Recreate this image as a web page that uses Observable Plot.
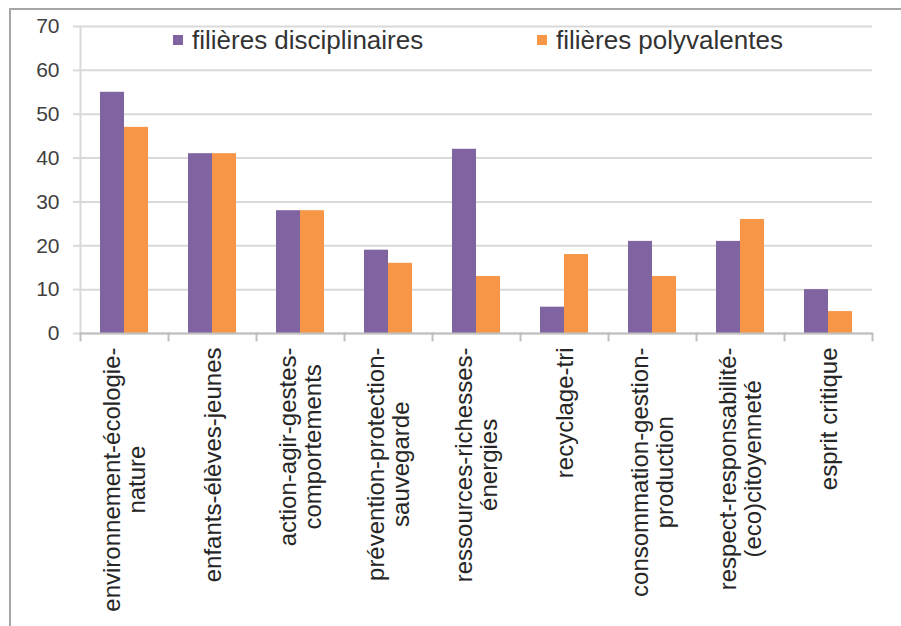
<!DOCTYPE html>
<html>
<head>
<meta charset="utf-8">
<script src="https://cdn.jsdelivr.net/npm/d3@7"></script>
<script src="https://cdn.jsdelivr.net/npm/@observablehq/plot@0.6"></script>
<style>
  html, body { margin: 0; padding: 0; background: #fff; }
  #wrap { position: relative; width: 901px; height: 626px; overflow: hidden; background: #fff; font-family: "Liberation Sans", Arial, sans-serif; }
  #border { position: absolute; left: 9px; top: 8px; width: 1000px; height: 1000px; border-left: 2px solid #a6a6a6; border-top: 2px solid #a6a6a6; }
  #chart { position: absolute; left: 0; top: 0; }
  #legend { position: absolute; top: 25px; left: 0; width: 901px; height: 30px; }
  .item { position: absolute; top: 0; height: 30px; display: flex; align-items: center; font-size: 26px; color: #333; white-space: nowrap; }
  .sw { width: 10px; height: 10px; margin-right: 9px; }
</style>
</head>
<body>
<div id="wrap">
  <div id="border"></div>
  <div id="chart"></div>
  <div id="legend"></div>
</div>
<script>
const categories = [
  "environnement-écologie-\nnature",
  "enfants-élèves-jeunes",
  "action-agir-gestes-\ncomportements",
  "prévention-protection-\nsauvegarde",
  "ressources-richesses-\nénergies",
  "recyclage-tri",
  "consommation-gestion-\nproduction",
  "respect-responsabilité-\n(eco)citoyenneté",
  "esprit critique"
];
const series = ["filières disciplinaires", "filières polyvalentes"];
const disciplinaires = [55, 41, 28, 19, 42, 6, 21, 21, 10];
const polyvalentes = [47, 41, 28, 16, 13, 18, 13, 26, 5];
const yTicks = [0, 10, 20, 30, 40, 50, 60, 70];
const colors = ["#8064A2", "#F79646"];

const data = categories.flatMap((c, i) => [
  {cat: c, series: series[0], value: disciplinaires[i]},
  {cat: c, series: series[1], value: polyvalentes[i]}
]);

const W = 901, H = 626;
const mL = 77, mR = 27, mT = 26, mB = 293;
const plotH = H - mT - mB;
const tickLen = 7;
const labelSize = 24;
const labelFont = `${labelSize}px "Liberation Sans", Arial, sans-serif`;

const ctx = document.createElement("canvas").getContext("2d");
ctx.font = labelFont;

const labelMarks = categories.map(c => {
  const lines = c.split("\n");
  const w = Math.max(...lines.map(l => ctx.measureText(l).width));
  return Plot.text([c], {
    fx: d => d,
    text: d => d,
    frameAnchor: "bottom",
    rotate: -90,
    textAnchor: "middle",
    lineAnchor: "middle",
    lineHeight: 1.05,
    dy: 14 + w / 2,
    fontSize: labelSize,
    fill: "#262626"
  });
});

const chart = Plot.plot({
  width: W,
  height: H,
  marginLeft: mL,
  marginRight: mR,
  marginTop: mT,
  marginBottom: mB,
  style: {fontFamily: '"Liberation Sans", Arial, sans-serif', background: "transparent", overflow: "visible"},
  fx: {domain: categories, padding: 0, label: null, axis: null},
  x: {domain: series, paddingInner: 0, paddingOuter: 0.77, axis: null},
  y: {domain: [0, 70], ticks: yTicks, label: null},
  color: {domain: series, range: colors},
  marks: [
    Plot.gridY(yTicks, {stroke: "#d9d9d9", strokeOpacity: 1, strokeWidth: 2}),
    Plot.axisY(yTicks, {tickSize: tickLen, tickPadding: 14, stroke: "#d9d9d9", strokeWidth: 2, fill: "#404040", fontSize: 21, label: null}),
    Plot.frame({anchor: "left", facetAnchor: "left", stroke: "#d9d9d9", strokeWidth: 2}),
    Plot.barY(data, {fx: "cat", x: "series", y: "value", fill: "series"}),
    Plot.ruleY([0], {stroke: "#bfbfbf", strokeWidth: 2}),
    Plot.frame({anchor: "left", insetTop: plotH, insetBottom: -tickLen, stroke: "#bfbfbf", strokeWidth: 2}),
    Plot.frame({anchor: "right", facetAnchor: "right", insetTop: plotH, insetBottom: -tickLen, stroke: "#bfbfbf", strokeWidth: 2}),
    ...labelMarks
  ]
});
document.getElementById("chart").appendChild(chart);

const legendPos = [173, 537];
const legend = document.getElementById("legend");
series.forEach((s, i) => {
  const item = document.createElement("div");
  item.className = "item";
  item.style.left = legendPos[i] + "px";
  const sw = document.createElement("span");
  sw.className = "sw";
  sw.style.background = colors[i];
  const t = document.createElement("span");
  t.textContent = s;
  item.appendChild(sw);
  item.appendChild(t);
  legend.appendChild(item);
});
</script>
</body>
</html>
